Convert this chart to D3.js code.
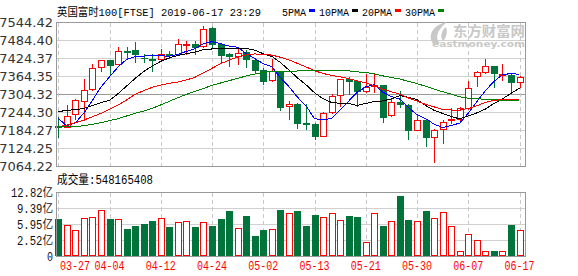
<!DOCTYPE html>
<html><head><meta charset="utf-8">
<script src="https://cdnjs.cloudflare.com/ajax/libs/d3/7.8.5/d3.min.js"></script>
<style>body{margin:0;background:#fff}svg{display:block}</style>
</head><body><svg id="c" width="578" height="276"></svg>
<script>
const dates = ["03-27","03-28","03-29","04-01","04-02","04-03","04-04","04-05","04-08","04-09","04-10","04-11","04-12","04-15","04-16","04-17","04-18","04-23","04-24","04-25","04-26","04-29","04-30","05-01","05-02","05-03","05-07","05-08","05-09","05-10","05-13","05-14","05-15","05-16","05-17","05-20","05-21","05-22","05-23","05-24","05-28","05-29","05-30","05-31","06-03","06-04","06-05","06-06","06-07","06-10","06-11","06-12","06-13","06-14","06-17"];
const open  = [7197.6,7195.4,7236.5,7281.0,7319.9,7393.3,7416.6,7405.5,7446.6,7451.1,7425.5,7421.0,7419.9,7437.7,7438.8,7468.8,7471.1,7463.3,7525.5,7471.1,7438.8,7431.0,7443.3,7417.7,7384.4,7352.1,7378.8,7263.2,7271.0,7207.6,7204.3,7165.4,7243.2,7299.9,7355.5,7347.7,7313.2,7331.0,7333.2,7233.2,7277.6,7268.8,7185.4,7217.6,7162.0,7186.5,7217.6,7221.0,7258.7,7365.5,7376.6,7397.7,7368.8,7367.7,7345.5];
const high  = [7226.5,7267.6,7287.7,7353.2,7404.4,7417.7,7417.7,7462.2,7462.2,7477.7,7437.7,7437.7,7453.3,7448.8,7488.9,7481.1,7481.1,7532.2,7526.6,7473.3,7441.1,7455.5,7451.1,7417.7,7392.1,7419.9,7381.0,7281.0,7273.2,7271.0,7206.5,7244.3,7304.3,7354.3,7362.1,7351.0,7369.9,7369.9,7335.4,7289.9,7314.3,7271.0,7234.3,7219.8,7186.5,7217.6,7258.7,7259.9,7347.7,7379.9,7419.9,7398.8,7403.3,7369.9,7364.3];
const low   = [7159.8,7193.2,7221.0,7217.6,7317.7,7382.1,7367.7,7404.4,7422.2,7411.0,7409.9,7382.1,7418.8,7425.5,7437.7,7438.8,7438.8,7462.2,7462.2,7406.6,7398.8,7405.5,7395.5,7373.2,7338.8,7347.7,7251.0,7221.0,7192.1,7188.7,7153.1,7164.3,7242.1,7264.3,7304.3,7265.4,7312.1,7312.1,7212.1,7232.1,7262.1,7153.1,7184.3,7130.9,7078.7,7139.8,7206.5,7217.6,7253.2,7332.1,7375.5,7328.8,7351.0,7315.4,7326.6];
const close = [7195.4,7232.1,7283.2,7316.6,7389.9,7416.6,7402.1,7446.6,7444.4,7436.6,7423.3,7418.8,7436.6,7435.5,7470.0,7471.1,7462.2,7521.1,7470.0,7435.5,7432.2,7441.1,7419.9,7384.4,7348.8,7382.1,7259.9,7269.9,7208.7,7205.4,7165.4,7239.9,7296.5,7353.2,7348.8,7313.2,7327.7,7333.2,7228.7,7276.5,7269.9,7185.4,7217.6,7162.0,7184.3,7212.1,7219.8,7258.7,7325.4,7376.6,7396.6,7373.2,7371.0,7345.5,7362.1];
const ma5  = [7223.2,7197.6,7208.7,7240.9,7283.4,7327.7,7361.7,7394.4,7419.9,7429.3,7430.6,7433.9,7431.9,7430.2,7436.8,7446.4,7455.1,7472.0,7478.9,7472.0,7464.2,7460.0,7439.7,7422.6,7405.3,7395.3,7359.0,7329.0,7293.9,7265.2,7221.9,7217.9,7223.2,7252.1,7280.8,7310.3,7327.9,7335.2,7310.3,7295.9,7287.2,7258.7,7235.6,7222.3,7203.8,7192.3,7199.2,7207.4,7240.1,7278.5,7315.4,7346.1,7368.6,7372.6,7369.7];
const ma10 = [7245.4,7249.9,7252.1,7256.5,7265.4,7275.4,7283.2,7305.4,7331.0,7356.4,7379.1,7397.8,7413.2,7425.0,7433.1,7438.5,7444.5,7452.0,7454.5,7454.4,7455.3,7457.5,7455.9,7450.8,7438.6,7429.7,7409.5,7384.4,7358.3,7335.2,7308.6,7288.4,7276.1,7273.0,7273.0,7266.1,7272.9,7279.2,7281.2,7288.3,7298.8,7293.3,7285.4,7266.3,7249.9,7239.7,7229.0,7221.5,7231.2,7241.2,7253.9,7272.6,7288.0,7306.3,7324.1];
const ma20 = [7195.4,7200.9,7208.7,7217.6,7228.7,7239.8,7253.2,7267.6,7284.3,7303.2,7315.4,7326.6,7334.3,7339.9,7344.3,7351.0,7359.9,7375.4,7389.9,7405.4,7417.2,7427.7,7434.5,7437.9,7435.8,7434.1,7427.0,7418.2,7406.4,7394.8,7381.9,7373.0,7366.0,7361.9,7355.8,7347.9,7341.2,7331.8,7319.7,7311.8,7303.7,7290.9,7280.8,7269.6,7261.4,7252.9,7250.9,7250.4,7256.2,7264.8,7276.3,7283.0,7286.7,7286.3,7287.0];
const ma30 = [7195.4,7195.4,7195.4,7198.7,7203.2,7208.7,7215.4,7222.1,7231.0,7239.8,7247.6,7256.5,7268.0,7280.0,7292.0,7303.0,7313.0,7323.0,7333.0,7341.0,7348.8,7356.6,7364.3,7371.0,7376.6,7378.8,7379.9,7381.0,7381.0,7382.0,7381.0,7381.3,7381.7,7382.9,7381.6,7378.1,7375.6,7371.9,7364.7,7359.3,7354.2,7346.4,7339.1,7330.0,7320.5,7311.9,7303.8,7295.0,7290.2,7288.2,7287.1,7284.8,7283.2,7281.9,7282.3];
const volume = [7.03,5.75,4.67,7.18,7.40,8.96,7.03,6.97,4.89,5.53,5.96,6.60,7.18,5.32,6.39,6.54,5.32,6.32,5.53,7.03,8.75,5.04,7.68,3.39,4.67,4.82,8.96,8.32,8.75,5.53,7.89,7.40,8.32,6.75,7.68,7.46,2.10,8.32,5.53,6.54,11.96,6.82,6.54,8.75,7.18,8.47,5.47,0.11,3.75,2.47,0.17,0.17,0.17,5.75,4.61];
const priceTicks = [7544.42,7484.40,7424.37,7364.35,7304.32,7244.30,7184.27,7124.25,7064.22];
const volTicks = [12.82,9.39,5.95,2.52];
const volFloor = -0.9;
const dateTicks = ["03-27","04-04","04-12","04-24","05-02","05-13","05-21","05-30","06-07","06-17"];
const title = "英国富时100[FTSE] 2019-06-17 23:29";
const maNames = ["5PMA","10PMA","20PMA","30PMA"];
const maColors = ["#0000ff","#000000","#ff0000","#008000"];
const volumeLabel = "成交量:548165408";

const RED = "#ff0000", GREEN = "#00743a";
const MONO = "'Liberation Mono','Noto Sans CJK SC',monospace";
const FS = 11;
const tw = s => Array.from(s).reduce((a,ch)=>a + (ch.charCodeAt(0) > 255 ? 12 : 6), 0);

const svg = d3.select("#c");
svg.append("rect").attr("width",578).attr("height",276).attr("fill","#fff");

const L = 56.5, R = 525.5, T = 22.5, B = 166.5, VT = 192.5, VB = 256.5;
const x = d3.scalePoint().domain(dates).range([58.3, 519.5]);
const y = d3.scaleLinear().domain([7064.22, 7544.42]).range([166, 22]);
const vy = d3.scaleLinear().domain([volFloor, 12.82]).range([256, 192]);
const cx = d => Math.round(x(d));

const g = svg.append("g").attr("shape-rendering","crispEdges");

g.selectAll(".hg").data(priceTicks).join("line")
  .attr("x1",L).attr("x2",R)
  .attr("y1",d=>Math.round(y(d))+0.5).attr("y2",d=>Math.round(y(d))+0.5)
  .attr("stroke",(d,i)=> i===4 ? "#999" : "#d0d0d0");
g.selectAll(".vg").data(volTicks).join("line")
  .attr("x1",L).attr("x2",R)
  .attr("y1",d=>Math.round(vy(d))+0.5).attr("y2",d=>Math.round(vy(d))+0.5)
  .attr("stroke","#d0d0d0");
dateTicks.forEach(d=>{
  const X = cx(d)+0.5;
  [[T,B],[VT,VB]].forEach(([a,b])=>{
    g.append("line").attr("x1",X).attr("x2",X).attr("y1",a).attr("y2",b)
      .attr("stroke","#c8c8c8").attr("stroke-dasharray","4,3");
  });
});

// watermark
const wm = svg.append("g").attr("fill","#c8c8c8");
wm.append("path").attr("d","M447,22 C436,24 429,31 431,40 C432,44 436,45 440,43 C435,39 436,31 447,22 Z M446,27 C441,31 440,37 443,41 C446,38 448,33 446,27 Z");
wm.append("text").attr("x",453).attr("y",35.5).attr("font-family","'Noto Sans CJK SC',sans-serif")
  .attr("font-weight","bold").attr("font-size",14).attr("textLength",72).attr("lengthAdjust","spacingAndGlyphs").text("东方财富网");
wm.append("text").attr("x",432).attr("y",46.5).attr("font-family","'DejaVu Sans',sans-serif")
  .attr("font-weight","bold").attr("font-size",8).attr("textLength",93).attr("lengthAdjust","spacingAndGlyphs").text("eastmoney.com");

// candles
const idx = d3.range(dates.length);
const cg = g.append("g");
idx.forEach(i=>{
  const c = cx(dates[i]);
  const up = close[i] >= open[i];
  const yH = Math.round(y(high[i])), yL = Math.round(y(low[i]));
  let yT = Math.round(y(Math.max(open[i],close[i]))), yB = Math.round(y(Math.min(open[i],close[i])));
  if (up) {
    if (yB - yT < 1) yB = yT + 1;
    cg.append("line").attr("x1",c+0.5).attr("x2",c+0.5).attr("y1",yH).attr("y2",yT).attr("stroke",RED);
    cg.append("line").attr("x1",c+0.5).attr("x2",c+0.5).attr("y1",yB+1).attr("y2",yL+1).attr("stroke",RED);
    cg.append("rect").attr("x",c-2.5).attr("y",yT+0.5).attr("width",6).attr("height",yB-yT)
      .attr("fill","#fff").attr("stroke",RED);
  } else {
    cg.append("line").attr("x1",c+0.5).attr("x2",c+0.5).attr("y1",yH).attr("y2",yL+1).attr("stroke",GREEN);
    cg.append("rect").attr("x",c-3).attr("y",yT).attr("width",7).attr("height",Math.max(1,yB-yT+1))
      .attr("fill",GREEN);
  }
});

// MA lines
const line = d3.line().x((d,i)=>x(dates[i])).y(d=>y(d));
[ma5,ma10,ma20,ma30].forEach((s,k)=>{
  g.append("path").datum(s).attr("d",line).attr("fill","none")
    .attr("stroke",maColors[k]).attr("stroke-width",1);
});

// volume bars
idx.forEach(i=>{
  const c = cx(dates[i]);
  const up = close[i] >= open[i];
  const top = Math.round(vy(volume[i]));
  const bot = Math.round(vy(volFloor));
  if (up) {
    g.append("rect").attr("x",c-2.5).attr("y",top+0.5).attr("width",6).attr("height",bot-top-1)
      .attr("fill","#fff").attr("stroke",RED);
  } else {
    g.append("rect").attr("x",c-3).attr("y",top).attr("width",7).attr("height",bot-top)
      .attr("fill",GREEN);
  }
});

// frames
g.append("rect").attr("x",L).attr("y",T).attr("width",R-L).attr("height",B-T).attr("fill","none").attr("stroke","#999");
g.append("rect").attr("x",L).attr("y",VT).attr("width",R-L).attr("height",VB-VT).attr("fill","none").attr("stroke","#999");

// price axis labels
svg.selectAll(".pl").data(priceTicks).join("text")
  .attr("x",53).attr("y",d=>y(d)).attr("dy","0.36em").attr("text-anchor","end")
  .attr("font-family","'DejaVu Sans',sans-serif").attr("font-size",13).attr("fill","#333")
  .text(d=>d.toFixed(2));

// volume axis labels
const vlab = volTicks.map(v=>({v, t: v.toFixed(2)+"亿"})).concat([{v: volFloor, t: "0"}]);
svg.selectAll(".vl").data(vlab).join("text")
  .attr("x",53).attr("y",d=>vy(d.v)).attr("dy","0.38em").attr("text-anchor","end")
  .attr("font-family",MONO).attr("font-size",12).attr("fill","#111")
  .attr("textLength",d=>tw(d.t)).attr("lengthAdjust","spacingAndGlyphs")
  .text(d=>d.t);

// date labels
svg.selectAll(".dl").data(dateTicks).join("text")
  .attr("x",d=>Math.max(x(d), 60 + tw(d)/2)).attr("y",270).attr("text-anchor","middle")
  .attr("font-family",MONO).attr("font-size",FS+1).attr("fill",RED)
  .attr("textLength",d=>tw(d)).attr("lengthAdjust","spacingAndGlyphs")
  .text(d=>d);

// title
svg.append("text").attr("x",57).attr("y",16).attr("font-family",MONO).attr("font-size",FS).attr("fill","#000")
  .attr("textLength",tw(title)).attr("lengthAdjust","spacingAndGlyphs").text(title);

// legend
let lx = 282;
maNames.forEach((n,k)=>{
  svg.append("text").attr("x",lx).attr("y",16).attr("font-family",MONO).attr("font-size",FS).attr("fill","#000")
    .attr("textLength",tw(n)).attr("lengthAdjust","spacingAndGlyphs").text(n);
  const sx = lx + tw(n) + 3;
  svg.append("rect").attr("x",sx).attr("y",9).attr("width",6).attr("height",3).attr("fill",maColors[k]);
  lx = sx + 10;
});

// volume label
svg.append("text").attr("x",57).attr("y",184).attr("font-family",MONO).attr("font-size",FS+1).attr("fill","#000")
  .attr("textLength",tw(volumeLabel)).attr("lengthAdjust","spacingAndGlyphs").text(volumeLabel);
</script></body></html>
